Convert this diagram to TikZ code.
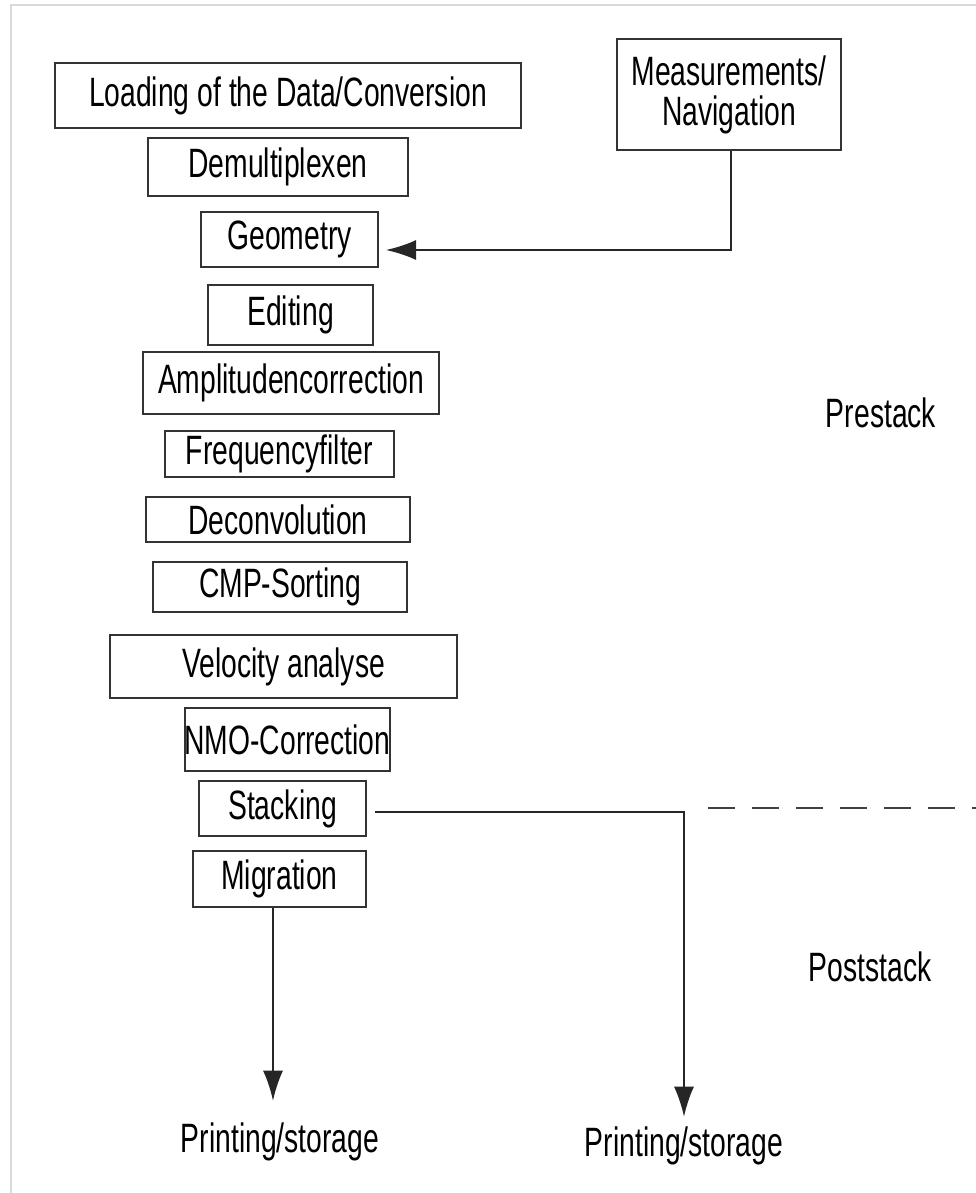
\documentclass[tikz,border=0pt]{standalone}
\usepackage{fontspec}
\setmainfont[FakeStretch=0.69]{Liberation Sans}
\usetikzlibrary{arrows.meta}

\tikzset{
  stepbox/.style={draw=black!80, line width=2pt, inner sep=0pt, font=\fontsize{41}{40}\selectfont, align=center},
  plain/.style={inner sep=0pt, font=\fontsize{41}{40}\selectfont},
  flow/.style={line width=1.8pt, black!85, -{Latex[length=30pt,width=20pt]}}
}

\begin{document}
\begin{tikzpicture}[x=1pt, y=-1pt]
\useasboundingbox (0,0) rectangle (976,1193);
% frame of the screenshot
\draw[black!15, line width=2.5pt] (11,1193) -- (11,5) -- (976,5);

% processing chain
\node[stepbox, minimum width=466pt, minimum height=65pt] (load) at (288,95.5) {Loading of the Data/Conversion};
\node[stepbox, minimum width=224pt, minimum height=111pt] (meas) at (729,94.5) {Measurements/\\Navigation};
\node[stepbox, minimum width=260pt, minimum height=58pt] (demux) at (278,167) {Demultiplexen};
\node[stepbox, minimum width=177pt, minimum height=55pt] (geom) at (289.5,239.5) {Geometry};
\node[stepbox, minimum width=165pt, minimum height=60pt] (edit) at (290.5,315) {Editing};
\node[stepbox, minimum width=296pt, minimum height=62pt] (ampl) at (291,383) {Amplitudencorrection};
\node[stepbox, minimum width=229pt, minimum height=46pt] (freq) at (279.5,454) {Frequencyfilter};
\node[stepbox, minimum width=264pt, minimum height=45pt] (decon) at (278,519.5) {Deconvolution};
\node[stepbox, minimum width=254pt, minimum height=50pt] (cmp) at (280,587) {CMP-Sorting};
\node[stepbox, minimum width=347pt, minimum height=63pt] (velo) at (283.5,666.5) {Velocity analyse};
\node[stepbox, minimum width=205pt, minimum height=63pt] (nmo) at (287.5,739.5) {NMO-Correction};
\node[stepbox, minimum width=167pt, minimum height=55pt] (stack) at (282.5,808.5) {Stacking};
\node[stepbox, minimum width=173pt, minimum height=56pt] (migr) at (279.5,879) {Migration};

% outputs and labels
\node[plain] (print1) at (280,1142) {Printing/storage};
\node[plain] (print2) at (684,1146) {Printing/storage};
\node[plain] (pre) at (881,413) {Prestack};
\node[plain] (post) at (870,967) {Poststack};

\coordinate (bend1) at (731,250);
\coordinate (bend2) at (684,812);
\coordinate (dashA) at (708,808);
\coordinate (dashB) at (976,808);

% connectors
\draw[flow] (meas.south -| bend1) -- (bend1) -- ([xshift=7pt]geom.east |- bend1);
\draw[flow] ([xshift=8pt]stack.east |- bend2) -- (bend2) -- ([yshift=10pt]print2.north);
\draw[flow] (migr.south -| 273,0) -- ([yshift=22pt]print1.north -| 273,0);
\draw[black!75, line width=2.2pt, dash pattern=on 27pt off 17pt] (dashA) -- (dashB);
\end{tikzpicture}
\end{document}
